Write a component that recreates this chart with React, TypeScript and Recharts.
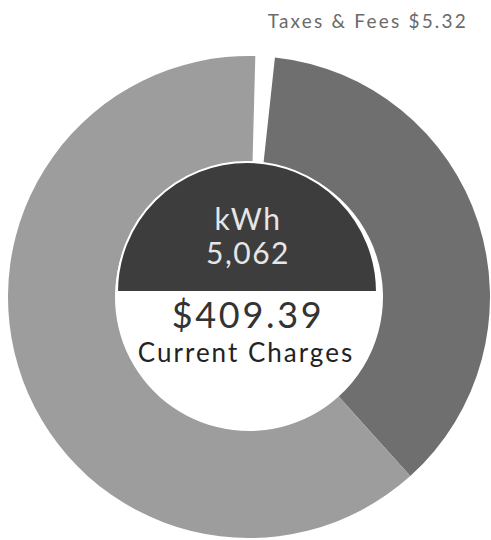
import { PieChart, Pie, Cell } from "recharts";

// charges breakdown (dollars), clockwise from the top
const sliceNames = ["Taxes & Fees", "Delivery", "Supply"];
const sliceValues = [5.32, 149.9, 254.17];
const sliceColors = ["#ffffff", "#6f6f6f", "#9d9d9d"];

const usageName = "kWh";
const usageValue = 5062;
const totalCharges = 409.39;

const ringData = sliceNames.map((n, i) => ({ n, v: sliceValues[i] }));
const usageData = [{ n: usageName, v: usageValue }];

const W = 491;
const H = 540;
const font = "Lato, 'Open Sans', sans-serif";

export default function App() {
  return (
    <div style={{ position: "fixed", left: 0, top: 0, width: W, height: H, background: "#fff" }}>
      <PieChart width={W} height={H} margin={{ top: 0, right: 0, bottom: 0, left: 0 }}>
        <Pie
          data={ringData}
          dataKey="v"
          nameKey="n"
          cx={249}
          cy={297}
          innerRadius={134}
          outerRadius={241}
          startAngle={88.5}
          endAngle={-271.5}
          stroke="none"
          isAnimationActive={false}
        >
          {ringData.map((d, i) => (
            <Cell key={d.n} fill={sliceColors[i]} />
          ))}
        </Pie>
        <Pie
          data={usageData}
          dataKey="v"
          nameKey="n"
          cx={247}
          cy={292}
          innerRadius={0}
          outerRadius={130}
          startAngle={180}
          endAngle={0}
          stroke="#ffffff"
          strokeWidth={2}
          isAnimationActive={false}
        >
          <Cell fill="#3d3d3d" />
        </Pie>
      </PieChart>
      <svg width={W} height={H} style={{ position: "absolute", left: 0, top: 0, pointerEvents: "none" }}>
        <text x={468} y={28} textAnchor="end" fontFamily={font} fontSize={19} letterSpacing={2.2} fill="#6a6a6a">
          {`${sliceNames[0]} $${sliceValues[0].toFixed(2)}`}
        </text>
        <text x={248} y={230} textAnchor="middle" fontFamily={font} fontSize={30} letterSpacing={1.5} fill="#e6e6e6">
          {usageName}
        </text>
        <text x={248} y={264} textAnchor="middle" fontFamily={font} fontSize={30} letterSpacing={1.5} fill="#e6e6e6">
          {usageValue.toLocaleString("en-US")}
        </text>
        <text x={248} y={328} textAnchor="middle" fontFamily={font} fontSize={36} letterSpacing={2.7} fill="#333">
          {`$${totalCharges.toFixed(2)}`}
        </text>
        <text x={246} y={362} textAnchor="middle" fontFamily={font} fontSize={26} letterSpacing={2} fill="#222">
          Current Charges
        </text>
      </svg>
    </div>
  );
}
